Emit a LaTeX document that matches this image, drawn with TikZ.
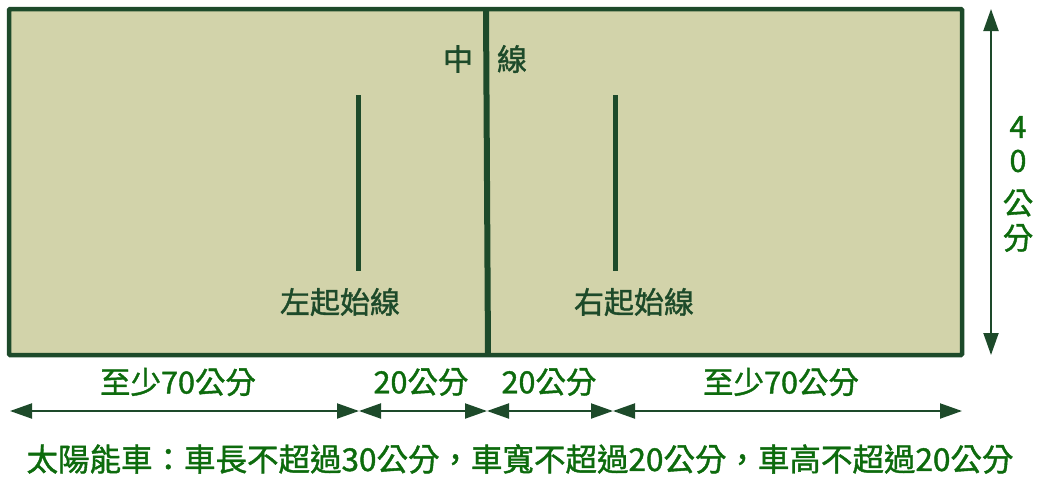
\documentclass[tikz,border=0pt]{standalone}
\usepackage{fontspec}
\setmainfont{Noto Sans CJK TC}[FakeBold=1.3]
\usetikzlibrary{arrows.meta}
\definecolor{boardfill}{HTML}{D2D3AA}
\definecolor{darkline}{HTML}{1D4A2A}
\definecolor{txtgreen}{HTML}{0D6B0D}
\tikzset{
  lbl/.style={font=\fontsize{30.5}{32}\selectfont, text=txtgreen, inner sep=0pt},
  inlbl/.style={font=\fontsize{30}{32}\selectfont, text=darkline, inner sep=0pt},
  dim/.style={draw=darkline, line width=2pt, {Triangle[length=22pt,width=15pt]}-{Triangle[length=22pt,width=15pt]}},
  mark line/.style={draw=darkline, line width=5pt},
}
\begin{document}
\begin{tikzpicture}[x=1pt,y=-1pt]
\useasboundingbox (0,0) rectangle (1039,477);
% board
\draw[fill=boardfill, draw=darkline, line width=4.5pt, rounded corners=1pt] (9,9) rectangle (962,355);
% centre line
\coordinate (ct) at (486,9);
\coordinate (cb) at (488,355);
\draw[darkline, line width=6pt] (ct) -- (cb);
% start lines
\coordinate (lt) at (358,95);
\coordinate (lb) at (358,271);
\coordinate (rt) at (615,95);
\coordinate (rb) at (615,271);
\draw[mark line] (lt) -- (lb);
\draw[mark line] (rt) -- (rb);
\node[inlbl] (zh1) at (458,59) {中};
\node[inlbl] (zh2) at (512,59) {線};
\node[inlbl] (left) at (340,302) {左起始線};
\node[inlbl] (right) at (634,302) {右起始線};
% vertical dimension
\coordinate (vt) at (991,9);
\coordinate (vb) at (991,355);
\draw[dim] (vt) -- (vb);
\node[lbl] (v1) at (1018,127) {4};
\node[lbl] (v2) at (1018,161) {0};
\node[lbl] (v3) at (1018,203) {公};
\node[lbl] (v4) at (1018,238) {分};
% horizontal dimensions
\coordinate (h0) at (10,411);
\coordinate (h1) at (359,411);
\coordinate (h2) at (487,411);
\coordinate (h3) at (613,411);
\coordinate (h4) at (962,411);
\draw[dim] (h0) -- (h1);
\draw[dim] (h1) -- (h2);
\draw[dim] (h2) -- (h3);
\draw[dim] (h3) -- (h4);
\node[lbl] (d1) at (178,382) {至少70公分};
\node[lbl] (d2) at (421,382) {20公分};
\node[lbl] (d3) at (549,382) {20公分};
\node[lbl] (d4) at (781,382) {至少70公分};
\node[lbl, font=\fontsize{31.5}{33}\selectfont] (note) at (520,459) {太陽能車：車長不超過30公分，車寬不超過20公分，車高不超過20公分};
\end{tikzpicture}
\end{document}
